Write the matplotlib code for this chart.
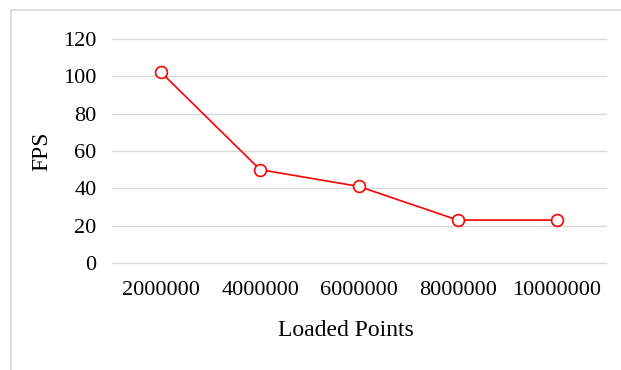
import matplotlib.pyplot as plt
from matplotlib.patches import Rectangle

points = ['2000000', '4000000', '6000000', '8000000', '10000000']
fps = [102, 50, 41, 23, 23]
yticks = [0, 20, 40, 60, 80, 100, 120]

plt.rcParams['font.family'] = ['Liberation Serif', 'DejaVu Serif']

fig = plt.figure(figsize=(6.21, 3.70), dpi=100)
ax = fig.add_axes([0.180, 0.289, 0.796, 0.606])

# chart area border
fig.patches.append(Rectangle((11 / 621, -0.1), 1.2, 1.1 - 10 / 370,
                             transform=fig.transFigure, fill=False,
                             edgecolor='#d9d9d9', linewidth=1.2))

x = range(len(points))
ax.plot(x, fps, color='#ff0000', linewidth=1.2, marker='o', markersize=8.5,
        markerfacecolor='white', markeredgecolor='#ff0000', markeredgewidth=1.2,
        zorder=3)

ax.set_xlim(-0.5, len(points) - 0.5)
ax.set_ylim(0, 120)
ax.set_yticks(yticks)
ax.set_xticks(list(x))
ax.set_xticklabels(points)
ax.grid(axis='y', color='#d9d9d9', linewidth=1.0)
for gl in ax.get_ygridlines():
    gl.set_clip_on(False)
ax.set_axisbelow(True)
for s in ax.spines.values():
    s.set_visible(False)
ax.tick_params(length=0, labelsize=16, colors='black')
ax.tick_params(axis='x', pad=13)
ax.tick_params(axis='y', pad=11)
ax.set_xlabel('Loaded Points', fontsize=17)
ax.xaxis.set_label_coords(0.474, -0.255)
ax.set_ylabel('FPS', fontsize=17, labelpad=8)

fig.savefig('out.png', dpi=100)
